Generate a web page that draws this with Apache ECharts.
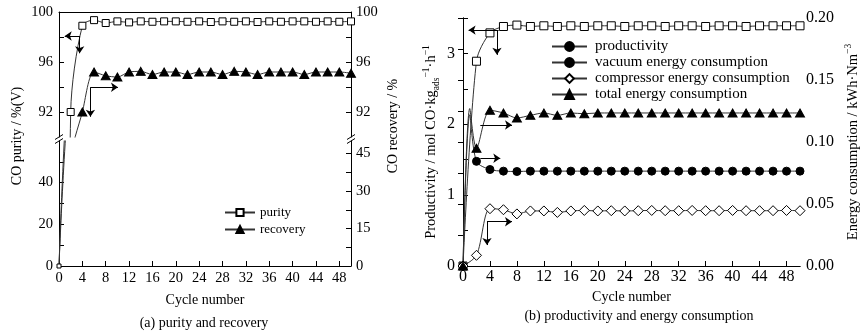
<!DOCTYPE html>
<html><head><meta charset="utf-8">
<script src="https://cdn.jsdelivr.net/npm/echarts@6/dist/echarts.min.js"></script>
<style>html,body{margin:0;padding:0;background:#fff}#c{width:868px;height:333px}</style>
</head><body><div id="c"></div><script>
// ---------------- data ----------------
// (a) purity and recovery
const purityCycles = [0,2,4,6,8,10,12,14,16,18,20,22,24,26,28,30,32,34,36,38,40,42,44,46,48,50];
const purityValues = [0,92.0,98.9,99.35,99.12,99.25,99.17,99.25,99.22,99.25,99.25,99.22,99.25,99.2,99.25,99.22,99.25,99.2,99.25,99.22,99.25,99.25,99.22,99.25,99.22,99.25];
const recoveryCycles = [0,2,4,6,8,10,12,14,16,18,20,22,24,26,28,30,32,34,36,38,40,42,44,46,48,50];
const recoveryValues = [0,88,92.0,95.2,94.9,94.8,95.2,95.25,95.0,95.2,95.2,95.0,95.2,95.2,95.0,95.25,95.2,95.0,95.2,95.2,95.2,95.0,95.2,95.2,95.2,95.1];
// (b) productivity and energy consumption
const prodCycles = [0,2,4,6,8,10,12,14,16,18,20,22,24,26,28,30,32,34,36,38,40,42,44,46,48,50];
const prodValues = [0,2.89,3.29,3.38,3.40,3.38,3.39,3.38,3.39,3.38,3.39,3.39,3.38,3.39,3.39,3.38,3.39,3.39,3.38,3.39,3.39,3.38,3.39,3.39,3.39,3.39];
const vacuumCycles = [0,1,2,4,6,8,10,12,14,16,18,20,22,24,26,28,30,32,34,36,38,40,42,44,46,48,50];
const vacuumValues = [0,0.122,0.0844,0.0778,0.0765,0.0762,0.0765,0.0765,0.0765,0.0765,0.0765,0.0765,0.0765,0.0765,0.0765,0.0765,0.0765,0.0765,0.0765,0.0765,0.0765,0.0765,0.0765,0.0765,0.0765,0.0765,0.0765];
const compCycles = [0,2,4,6,8,10,12,14,16,18,20,22,24,26,28,30,32,34,36,38,40,42,44,46,48,50];
const compValues = [0,0.0086,0.0462,0.0454,0.0420,0.0444,0.0444,0.0432,0.0444,0.0448,0.0444,0.0446,0.0444,0.0446,0.0448,0.0446,0.0446,0.0448,0.0446,0.0446,0.0448,0.0446,0.0446,0.0446,0.0448,0.0446];
const totalCycles = [0,1,2,4,6,8,10,12,14,16,18,20,22,24,26,28,30,32,34,36,38,40,42,44,46,48,50];
const totalValues = [0,0.127,0.095,0.1256,0.1234,0.1194,0.1215,0.1234,0.1215,0.1234,0.1228,0.1234,0.1234,0.1234,0.1234,0.1234,0.1234,0.1234,0.1234,0.1234,0.1234,0.1234,0.1234,0.1234,0.1234,0.1234,0.1234];
// tick labels
const cycleTicks = [0,4,8,12,16,20,24,28,32,36,40,44,48];
const upperTicks = [92,94,96,98,100], upperLabels = [92,96,100];
const purityLowTicks = [0,10,20,30,40,50], purityLowLabels = [0,20,40];
const recLowTicks = [0,7.5,15,22.5,30,37.5,45], recLowLabels = [0,15,30,45];
const prodTicks = [0,0.5,1,1.5,2,2.5,3,3.5], prodLabels = [0,1,2,3];
const energyTicks = [0,0.025,0.05,0.075,0.1,0.125,0.15,0.175,0.2], energyLabels = [0,0.05,0.1,0.15,0.2];
// annotation arrows [x1,y1,x2,y2] in data units
const purityArrows = [[3.54,98.08,0.98,98.08],[3.54,98.08,3.54,96.7]];
const recoveryArrows = [[5.38,93.98,5.38,91.62],[5.38,93.98,10.1,93.98]];
const prodArrows = [[5.28,3.33,0.83,3.33],[5.04,3.33,5.04,2.98]];
const vacuumArrows = [[2.57,0.0869,5.53,0.0869]];
const totalArrows = [[2.57,0.1137,7.27,0.1137]];
const compArrows = [[3.56,0.0357,7.27,0.0357],[3.56,0.0357,3.56,0.0169]];

// ---------------- chart ----------------
const FONT = 'Liberation Serif';
const pair = (xs, ys) => xs.map((x, i) => [x, ys[i]]);
const arrows = (list) => ({
  silent: true, symbol: ['none', 'arrow'], symbolSize: 7,
  label: {show: false}, emphasis: {disabled: true},
  lineStyle: {color: '#000', width: 1, type: 'solid'},
  data: list.map(a => [{coord: [a[0], a[1]]}, {coord: [a[2], a[3]]}])
});
const axisLineStyle = {show: true, lineStyle: {color: '#000', width: 1}};
function xAx(grid, opts) {
  return Object.assign({
    type: 'value', gridIndex: grid, min: 0, max: 50, splitLine: {show: false},
    axisLine: axisLineStyle,
    axisTick: {show: true, inside: true, length: 5, customValues: cycleTicks, lineStyle: {color: '#000'}},
    axisLabel: {customValues: cycleTicks, fontFamily: FONT, fontSize: 14.5, color: '#000', margin: 5}
  }, opts);
}
function yAx(grid, pos, min, max, ticks, labels, opts) {
  return Object.assign({
    type: 'value', gridIndex: grid, position: pos, min: min, max: max, splitLine: {show: false},
    axisLine: axisLineStyle,
    axisTick: {show: true, inside: true, length: 5, customValues: ticks, lineStyle: {color: '#000'}},
    axisLabel: {customValues: labels, fontFamily: FONT, fontSize: 14.5, color: '#000', margin: 6}
  }, opts || {});
}
const lineStyle = {color: '#333', width: 1};
const openStyle = {color: '#fff', borderColor: '#000', borderWidth: 1};
const fillStyle = {color: '#000', borderColor: '#000', borderWidth: 1};

const option = {
  animation: false,
  backgroundColor: '#fff',
  grid: [
    {left: 59, top: 12, width: 292, height: 125},
    {left: 59, top: 141, width: 292, height: 125},
    {left: 463, top: 18, width: 337, height: 248}
  ],
  xAxis: [
    xAx(0, {position: 'top', axisTick: {show: false}, axisLabel: {show: false}}),
    xAx(1, {position: 'bottom', name: 'Cycle number', nameLocation: 'middle', nameGap: 27,
            nameTextStyle: {fontFamily: FONT, fontSize: 14, color: '#000'}}),
    xAx(2, {position: 'bottom', name: 'Cycle number', nameLocation: 'middle', nameGap: 21,
            nameTextStyle: {fontFamily: FONT, fontSize: 14, color: '#000'},
            axisLabel: {customValues: cycleTicks, fontFamily: FONT, fontSize: 16, color: '#000', margin: 3}}),
    xAx(2, {position: 'top', axisTick: {show: false}, axisLabel: {show: false}})
  ],
  yAxis: [
    yAx(0, 'left', 90, 100, upperTicks, upperLabels),
    yAx(0, 'right', 90, 100, upperTicks, upperLabels, {axisLabel: {customValues: upperLabels, fontFamily: FONT, fontSize: 14.5, color: '#000', margin: 5}}),
    yAx(1, 'left', 0, 60, purityLowTicks, purityLowLabels),
    yAx(1, 'right', 0, 50, recLowTicks, recLowLabels, {axisLabel: {customValues: recLowLabels, fontFamily: FONT, fontSize: 14.5, color: '#000', margin: 5}}),
    yAx(2, 'left', 0, 3.5, prodTicks, prodLabels, {
      axisLabel: {customValues: prodLabels, fontFamily: FONT, fontSize: 16, color: '#000', margin: 8},
      name: '{n|Productivity / mol CO·kg}{sub|ads}{sup|−1}{n|·h}{sup|−1}', nameLocation: 'middle', nameRotate: 90, nameGap: 22,
      nameTextStyle: {rich: {
        n: {fontFamily: FONT, fontSize: 14.5, color: '#000', lineHeight: 20, verticalAlign: 'middle'},
        sub: {fontFamily: FONT, fontSize: 9.5, color: '#000', lineHeight: 20, verticalAlign: 'bottom'},
        sup: {fontFamily: FONT, fontSize: 9.5, color: '#000', lineHeight: 20, verticalAlign: 'top'}
      }}
    }),
    yAx(2, 'right', 0, 0.2, energyTicks, energyLabels, {
      axisLabel: {customValues: energyLabels, fontFamily: FONT, fontSize: 16, color: '#000', margin: 6, formatter: v => v.toFixed(2)},
      name: '{n|Energy consumption / kWh·Nm}{sup|−3}', nameLocation: 'middle', nameRotate: 90, nameGap: 43,
      nameTextStyle: {rich: {
        n: {fontFamily: FONT, fontSize: 14.5, color: '#000', lineHeight: 20, verticalAlign: 'middle'},
        sup: {fontFamily: FONT, fontSize: 9.5, color: '#000', lineHeight: 20, verticalAlign: 'top'}
      }}
    })
  ],
  legend: [
    {data: ['purity', 'recovery'], left: 224, top: 206, padding: 0, orient: 'vertical', itemWidth: 30, itemHeight: 9, itemGap: 4,
     selectedMode: false, textStyle: {fontFamily: FONT, fontSize: 13, color: '#000'}},
    {data: ['productivity', 'vacuum energy consumption', 'compressor energy consumption', 'total energy consumption'],
     left: 551, top: 39, padding: 0, orient: 'vertical', itemWidth: 35, itemHeight: 11, itemGap: 1,
     selectedMode: false, textStyle: {fontFamily: FONT, fontSize: 15, color: '#000', padding: [0, 0, 0, 3]}}
  ],
  series: [
    {name: 'purity', type: 'line', xAxisIndex: 0, yAxisIndex: 0, clip: true, smooth: 0.3,
     data: pair(purityCycles, purityValues), symbol: 'rect', symbolSize: 7, itemStyle: openStyle, lineStyle: lineStyle,
     markLine: arrows(purityArrows)},
    {name: 'recovery', type: 'line', xAxisIndex: 0, yAxisIndex: 1, clip: true, smooth: 0.3,
     data: pair(recoveryCycles, recoveryValues), symbol: 'triangle', symbolSize: [9, 8], itemStyle: fillStyle, lineStyle: lineStyle,
     markLine: arrows(recoveryArrows)},
    {name: 'purity', type: 'line', xAxisIndex: 1, yAxisIndex: 2, clip: true, smooth: 0.3,
     data: pair(purityCycles, purityValues), symbol: 'rect', symbolSize: 4, itemStyle: openStyle, lineStyle: lineStyle},
    {name: 'recovery', type: 'line', xAxisIndex: 1, yAxisIndex: 3, clip: true, smooth: 0.3,
     data: pair(recoveryCycles, recoveryValues), symbol: 'triangle', symbolSize: 0, showSymbol: false, itemStyle: fillStyle, lineStyle: lineStyle},
    {name: 'productivity', type: 'line', xAxisIndex: 2, yAxisIndex: 4, clip: true, smooth: 0.3,
     symbol: 'circle', itemStyle: fillStyle, lineStyle: lineStyle,
     data: prodCycles.map((c, i) => ({value: [c, prodValues[i]], symbol: 'rect', symbolSize: 8, itemStyle: openStyle})),
     markLine: arrows(prodArrows)},
    {name: 'vacuum energy consumption', type: 'line', xAxisIndex: 2, yAxisIndex: 5, clip: true, smooth: 0.3,
     data: pair(vacuumCycles, vacuumValues), symbol: 'circle', symbolSize: v => (v[0] % 2 ? 0 : 8),
     itemStyle: fillStyle, lineStyle: lineStyle, markLine: arrows(vacuumArrows)},
    {name: 'compressor energy consumption', type: 'line', xAxisIndex: 2, yAxisIndex: 5, clip: true, smooth: 0.3,
     data: pair(compCycles, compValues), symbol: 'diamond', symbolSize: [10, 10],
     itemStyle: openStyle, lineStyle: lineStyle, markLine: arrows(compArrows)},
    {name: 'total energy consumption', type: 'line', xAxisIndex: 2, yAxisIndex: 5, clip: true, smooth: 0.3,
     data: pair(totalCycles, totalValues), symbol: 'triangle', symbolSize: v => (v[0] % 2 ? 0 : [9, 8]),
     itemStyle: fillStyle, lineStyle: lineStyle, markLine: arrows(totalArrows)}
  ],
  graphic: [
    {type: 'text', x: 17, y: 136, rotation: Math.PI / 2,
     style: {text: 'CO purity / %(V)', fontFamily: FONT, fontSize: 14, fill: '#000', align: 'center', verticalAlign: 'middle'}},
    {type: 'text', x: 393, y: 126, rotation: Math.PI / 2,
     style: {text: 'CO recovery / %', fontFamily: FONT, fontSize: 14, fill: '#000', align: 'center', verticalAlign: 'middle'}},
    {type: 'text', x: 204, y: 323,
     style: {text: '(a) purity and recovery', fontFamily: FONT, fontSize: 14, fill: '#000', align: 'center', verticalAlign: 'middle'}},
    {type: 'text', x: 639, y: 316,
     style: {text: '(b) productivity and energy consumption', fontFamily: FONT, fontSize: 14, fill: '#000', align: 'center', verticalAlign: 'middle'}},
    {type: 'line', shape: {x1: 55, y1: 139.5, x2: 63, y2: 134.5}, style: {stroke: '#000', lineWidth: 1}},
    {type: 'line', shape: {x1: 55, y1: 143.5, x2: 63, y2: 138.5}, style: {stroke: '#000', lineWidth: 1}},
    {type: 'line', shape: {x1: 347, y1: 139.5, x2: 355, y2: 134.5}, style: {stroke: '#000', lineWidth: 1}},
    {type: 'line', shape: {x1: 347, y1: 143.5, x2: 355, y2: 138.5}, style: {stroke: '#000', lineWidth: 1}}
  ]
};
const chart = echarts.init(document.getElementById('c'));
chart.setOption(option);
</script></body></html>
